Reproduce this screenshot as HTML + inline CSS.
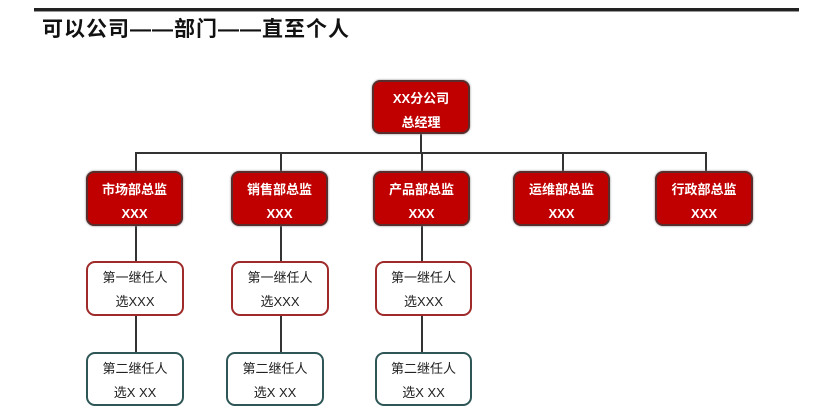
<!DOCTYPE html>
<html><head><meta charset="utf-8"><style>
body{margin:0;width:832px;height:414px;background:#fff;position:relative;overflow:hidden;font-family:"Liberation Sans","Noto Sans CJK SC",sans-serif}
.a{position:absolute}
.r{position:absolute;box-sizing:border-box;background:#c00000;border:2px solid #5a2c2c;border-radius:8px;color:#fff;font-weight:bold;font-size:13px;text-align:center;line-height:24px;padding-top:5px;box-shadow:0 0 2px #888}
.s{position:absolute;box-sizing:border-box;background:#fff;border:2px solid #9e2a2a;border-radius:9px;color:#222;font-size:13px;text-align:center;line-height:24px;padding-top:3px}
.t{border-color:#2e5656}
.l{position:absolute;background:#333}
</style></head><body>
<div class="a" style="left:34px;top:8px;width:765px;height:3px;background:#222;border-bottom:1px solid #999"></div>
<div class="a" style="left:42px;top:17px;font-size:21px;letter-spacing:1px;font-weight:bold;color:#111;line-height:26px">可以公司——部门——直至个人</div>

<div class="l" style="left:420px;top:134px;width:1.5px;height:20px"></div>
<div class="l" style="left:135px;top:152px;width:571px;height:1.5px"></div>
<div class="l" style="left:135px;top:152px;width:1.5px;height:200px"></div>
<div class="l" style="left:280px;top:152px;width:1.5px;height:200px"></div>
<div class="l" style="left:421px;top:152px;width:1.5px;height:200px"></div>
<div class="l" style="left:562px;top:152px;width:1.5px;height:20px"></div>
<div class="l" style="left:705px;top:152px;width:1.5px;height:20px"></div>

<div class="r" style="left:372px;top:80px;width:98px;height:54px">XX分公司<br>总经理</div>
<div class="r" style="left:86px;top:171px;width:97px;height:55px">市场部总监<br>XXX</div>
<div class="r" style="left:231px;top:171px;width:97px;height:55px">销售部总监<br>XXX</div>
<div class="r" style="left:373px;top:171px;width:97px;height:55px">产品部总监<br>XXX</div>
<div class="r" style="left:513px;top:171px;width:97px;height:55px">运维部总监<br>XXX</div>
<div class="r" style="left:655px;top:171px;width:98px;height:55px">行政部总监<br>XXX</div>

<div class="s" style="left:86px;top:261px;width:98px;height:55px">第一继任人<br>选XXX</div>
<div class="s" style="left:231px;top:261px;width:98px;height:55px">第一继任人<br>选XXX</div>
<div class="s" style="left:375px;top:261px;width:97px;height:55px">第一继任人<br>选XXX</div>
<div class="s t" style="left:86px;top:352px;width:98px;height:54px">第二继任人<br>选X XX</div>
<div class="s t" style="left:226px;top:352px;width:98px;height:54px">第二继任人<br>选X XX</div>
<div class="s t" style="left:375px;top:352px;width:97px;height:54px">第二继任人<br>选X XX</div>
</body></html>
